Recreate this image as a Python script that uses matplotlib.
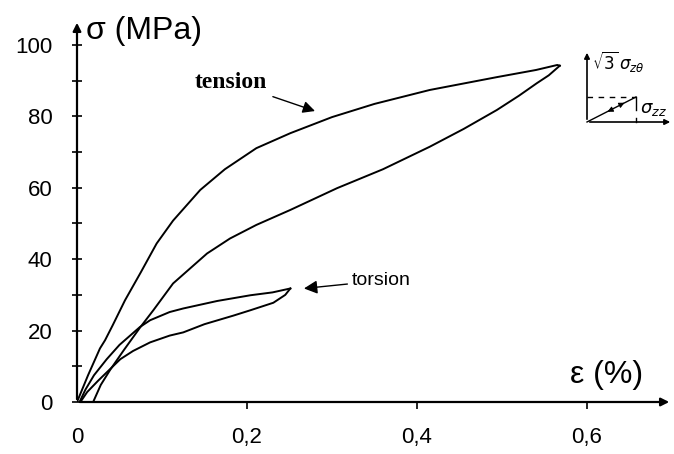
import matplotlib.pyplot as plt
import numpy as np

plt.rcParams["font.family"] = ["Liberation Sans", "DejaVu Sans"]

# tension loop (strain %, stress MPa)
tens_load_x = [0, 0.013, 0.027, 0.033, 0.042, 0.0565, 0.075, 0.0937, 0.113, 0.145,
               0.174, 0.211, 0.251, 0.3, 0.35, 0.415, 0.494, 0.54, 0.565, 0.568]
tens_load_y = [0, 7.5, 15, 17.3, 21.5, 28.5, 36.3, 44.4, 50.8, 59.4,
               65.2, 71.1, 75.3, 79.8, 83.5, 87.4, 91, 93, 94.4, 94.2]
tens_unload_x = [0.568, 0.555, 0.541, 0.52, 0.494, 0.455, 0.415, 0.36, 0.306, 0.251,
                 0.211, 0.18, 0.153, 0.113, 0.0898, 0.074, 0.055, 0.039, 0.028, 0.019]
tens_unload_y = [94.2, 91.5, 89.3, 85.8, 81.8, 76.5, 71.5, 65.2, 59.9, 53.8,
                 49.6, 45.8, 41.6, 33.2, 25.7, 20.8, 14.5, 9, 4.8, 0]

# torsion loop
tors_load_x = [0.003, 0.01, 0.02, 0.035, 0.05, 0.074, 0.086, 0.109, 0.125, 0.165,
               0.204, 0.23, 0.251]
tors_load_y = [0, 3.5, 7.5, 12, 16, 21, 22.9, 25.2, 26.2, 28.3,
               29.9, 30.7, 31.8]
tors_unload_x = [0.251, 0.245, 0.231, 0.204, 0.184, 0.15, 0.125, 0.109, 0.086, 0.066,
                 0.051, 0.038, 0.025, 0.012, 0.004]
tors_unload_y = [31.8, 30, 27.8, 25.7, 24.2, 21.8, 19.5, 18.6, 16.7, 14.3,
                 12, 9, 6, 2.8, 0]

x_ticks = [0, 0.2, 0.4, 0.6]
x_labels = ["0", "0,2", "0,4", "0,6"]
y_ticks = [0, 20, 40, 60, 80, 100]

fig = plt.figure(figsize=(6.74, 4.54), dpi=100)
ax = fig.add_axes([77 / 674, 52 / 454, 595 / 674, 382 / 454])

lw = 1.4
ax.plot(tens_load_x, tens_load_y, color="black", lw=lw)
ax.plot(tens_unload_x, tens_unload_y, color="black", lw=lw)
ax.plot(tors_load_x, tors_load_y, color="black", lw=lw)
ax.plot(tors_unload_x, tors_unload_y, color="black", lw=lw)

ax.set_xlim(0, 0.70)
ax.set_ylim(0, 107)
for s in ax.spines.values():
    s.set_visible(False)

# axes drawn as arrows
ax.annotate("", xy=(0.70, 0), xytext=(0, 0),
            arrowprops=dict(arrowstyle="-|>", color="black", lw=1.6, mutation_scale=12),
            annotation_clip=False)
ax.annotate("", xy=(0, 107), xytext=(0, 0),
            arrowprops=dict(arrowstyle="-|>", color="black", lw=1.6, mutation_scale=12),
            annotation_clip=False)

ax.set_yticks(y_ticks)
ax.set_yticks(np.arange(10, 100, 20), minor=True)
ax.tick_params(axis="y", which="both", direction="inout", length=7, width=1.2,
               labelsize=16, pad=14)
ax.set_xticks(x_ticks)
ax.set_xticklabels(x_labels)
ax.tick_params(axis="x", direction="out", length=5, width=1.2, labelsize=16, pad=13)
ax.xaxis.get_major_ticks()[0].tick1line.set_visible(False)

ax.text(0.010, 104, "σ (MPa)", fontsize=23, ha="left", va="center")
ax.text(0.580, 7.5, "ε (%)", fontsize=23, ha="left", va="center")

ax.annotate("tension", xy=(0.28, 81.5), xytext=(0.139, 89.5),
            fontsize=17, fontweight="bold", family=["Liberation Serif"],
            ha="left", va="center",
            arrowprops=dict(arrowstyle="-|>", color="black", lw=1.0, mutation_scale=18,
                            shrinkA=2, shrinkB=0))
ax.annotate("torsion", xy=(0.267, 31.8), xytext=(0.323, 34.0),
            fontsize=14, ha="left", va="center",
            arrowprops=dict(arrowstyle="-|>", color="black", lw=1.0, mutation_scale=20,
                            shrinkA=1, shrinkB=0))

# loading path inset
ins = fig.add_axes([583 / 674, 329 / 454, 91 / 674, 80 / 454])
ins.set_xlim(0, 91)
ins.set_ylim(0, 80)
ins.axis("off")
ins.annotate("", xy=(4, 75), xytext=(4, 3),
             arrowprops=dict(arrowstyle="-|>", color="black", lw=1.2, mutation_scale=8))
ins.annotate("", xy=(90, 3), xytext=(4, 3),
             arrowprops=dict(arrowstyle="-|>", color="black", lw=1.2, mutation_scale=8))
ins.plot([4, 53], [28, 28], color="black", lw=1.0, ls=(0, (4, 4)))
ins.plot([53, 53], [28, 15], color="black", lw=1.0)
ins.plot([53, 53], [7, 3], color="black", lw=1.0)
ins.plot([4, 53], [3, 28], color="black", lw=1.0)
ins.annotate("", xy=(22, 12), xytext=(30, 16),
             arrowprops=dict(arrowstyle="-|>", color="black", lw=0.8, mutation_scale=8))
ins.annotate("", xy=(44, 23.5), xytext=(36, 19.5),
             arrowprops=dict(arrowstyle="-|>", color="black", lw=0.8, mutation_scale=8))
ins.text(9, 64, r"$\sqrt{3}\,\sigma_{z\theta}$", fontsize=12, ha="left", va="center")
ins.text(57, 16, r"$\sigma_{zz}$", fontsize=13, ha="left", va="center")

plt.savefig("out.png", dpi=100)
